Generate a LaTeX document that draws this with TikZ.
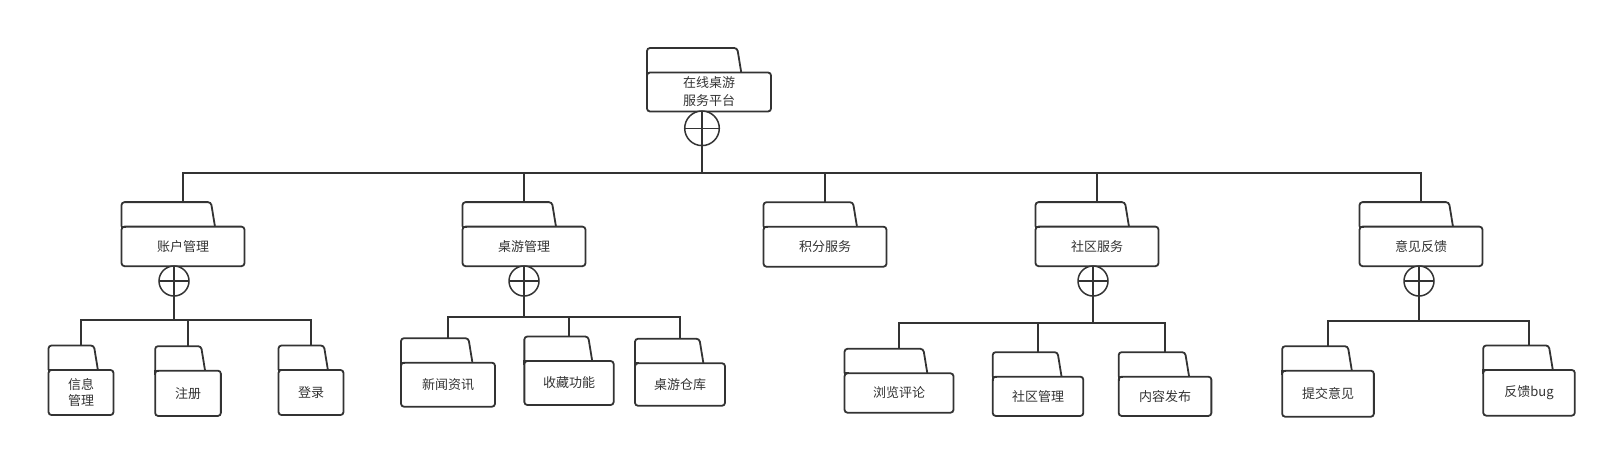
\documentclass[tikz,border=0pt]{standalone}
\usepackage{fontspec}
\setmainfont{Noto Sans CJK SC}
\usetikzlibrary{calc}
\definecolor{ink}{HTML}{333333}
\tikzset{
  pkg/.style={draw=ink, line width=1.8pt, rounded corners=3pt, fill=white, inner sep=0pt, outer sep=0pt,
    text=ink, font=\fontsize{13}{16}\selectfont, align=center},
  tabline/.style={draw=ink, line width=1.8pt, rounded corners=3pt},
  link/.style={draw=ink, line width=1.8pt},
  orc/.style={draw=ink, line width=1.5pt, circle, fill=white, inner sep=0pt, outer sep=0pt, anchor=north,
    path picture={\draw[ink, line width=1.5pt] (path picture bounding box.north) -- (path picture bounding box.south)
      (path picture bounding box.west) -- (path picture bounding box.east);}}
}
\begin{document}
\begin{tikzpicture}[x=1pt,y=1pt]
  \useasboundingbox (0,0) rectangle (1606,-449);
  % top
  \node[pkg, minimum width=124, minimum height=39, font=\fontsize{13}{18}\selectfont] (plat) at (709,-92) {在线桌游\\服务平台};
  \node[orc, minimum size=34.6] (plat-o) at (702,-111) {};
  % second row
  \node[pkg, minimum width=123, minimum height=39.5] (zhgl) at (183,-246.4) {账户管理};
  \node[pkg, minimum width=123, minimum height=39.5] (zygl) at (524,-246.4) {桌游管理};
  \node[pkg, minimum width=123, minimum height=40] (jffw) at (825,-246.7) {积分服务};
  \node[pkg, minimum width=123, minimum height=39.5] (sqfw) at (1097,-246.4) {社区服务};
  \node[pkg, minimum width=123, minimum height=39.5] (yjfk) at (1421,-246.4) {意见反馈};
  \node[orc, minimum size=30] (zhgl-o) at (174,-266) {};
  \node[orc, minimum size=30] (zygl-o) at (524,-266) {};
  \node[orc, minimum size=30] (sqfw-o) at (1093,-266) {};
  \node[orc, minimum size=30] (yjfk-o) at (1419,-266) {};
  % third row
  \node[pkg, minimum width=65, minimum height=45] (xxgl) at (81,-392.5) {信息\\管理};
  \node[pkg, minimum width=65.7, minimum height=45.3] (zc) at (188,-393.3) {注册};
  \node[pkg, minimum width=65, minimum height=45] (dl) at (311,-392.5) {登录};
  \node[pkg, minimum width=94, minimum height=44] (xwzx) at (448,-384.7) {新闻资讯};
  \node[pkg, minimum width=89.3, minimum height=44] (scgn) at (569,-383) {收藏功能};
  \node[pkg, minimum width=90, minimum height=42.5] (zyck) at (680,-384.5) {桌游仓库};
  \node[pkg, minimum width=109, minimum height=39.4] (llpl) at (899,-393) {浏览评论};
  \node[pkg, minimum width=90.6, minimum height=39.3] (sqgl) at (1038,-396.3) {社区管理};
  \node[pkg, minimum width=92.7, minimum height=39.3] (nrfb) at (1165,-396.3) {内容发布};
  \node[pkg, minimum width=91.7, minimum height=46] (tjyj) at (1328,-393.7) {提交意见};
  \node[pkg, minimum width=91.6, minimum height=45.7] (fkbug) at (1529,-392.8) {反馈bug};
  % tabs
  \foreach \n in {plat,zhgl,zygl,jffw,sqfw,yjfk,xxgl,zc,dl,xwzx,scgn,zyck,llpl,sqgl,nrfb,tjyj,fkbug}{
    \draw[ink, line width=1.8pt] ([xshift=4pt]\n.north west) -- (\n.north west) -- ([yshift=-4pt]\n.north west);
    \draw[tabline] (\n.north west) -- ($(\n.north west)+(0,24.5)$)
      -- ($(\n.north west)!0.76!(\n.north east)+(-4,24.5)$) -- ($(\n.north west)!0.76!(\n.north east)$);
    \coordinate (\n-top) at ($(\n.north)+(0,24.5)$);
  }
  % connectors
  \coordinate (bus0) at (702,-173);
  \draw[link] (plat-o.south) -- (bus0);
  \foreach \n in {zhgl,zygl,jffw,sqfw,yjfk} \draw[link] (\n-top) |- (bus0);
  \coordinate (zhgl-bus) at (174,-320);
  \draw[link] (zhgl-o.south) -- (zhgl-bus);
  \foreach \n in {xxgl,zc,dl} \draw[link] (\n-top) |- (zhgl-bus);
  \coordinate (zygl-bus) at (524,-317);
  \draw[link] (zygl-o.south) -- (zygl-bus);
  \foreach \n in {xwzx,scgn,zyck} \draw[link] (\n-top) |- (zygl-bus);
  \coordinate (sqfw-bus) at (1093,-323);
  \draw[link] (sqfw-o.south) -- (sqfw-bus);
  \foreach \n in {llpl,sqgl,nrfb} \draw[link] (\n-top) |- (sqfw-bus);
  \coordinate (yjfk-bus) at (1419,-321);
  \draw[link] (yjfk-o.south) -- (yjfk-bus);
  \foreach \n in {tjyj,fkbug} \draw[link] (\n-top) |- (yjfk-bus);
\end{tikzpicture}
\end{document}
